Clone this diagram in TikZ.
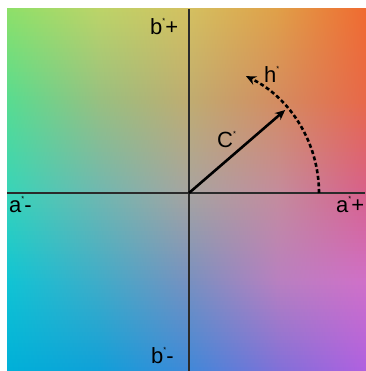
\documentclass[tikz,border=0pt]{standalone}
\usepackage{fontspec}
\setmainfont{Liberation Sans}
\usetikzlibrary{arrows.meta}
% colour grid: row (top->bottom) / column (left->right)
\definecolor{g00}{HTML}{8EE068}\definecolor{g01}{HTML}{BCD468}\definecolor{g02}{HTML}{D4C060}\definecolor{g03}{HTML}{E0A048}\definecolor{g04}{HTML}{F06A30}
\definecolor{g10}{HTML}{58DC90}\definecolor{g11}{HTML}{98C080}\definecolor{g12}{HTML}{C0AC70}\definecolor{g13}{HTML}{D48C60}\definecolor{g14}{HTML}{E86848}
\definecolor{g20}{HTML}{38D4B8}\definecolor{g21}{HTML}{70B8B0}\definecolor{g22}{HTML}{A8A4A0}\definecolor{g23}{HTML}{C48C9C}\definecolor{g24}{HTML}{D8608A}
\definecolor{g30}{HTML}{10C4D4}\definecolor{g31}{HTML}{40ACC8}\definecolor{g32}{HTML}{7890C0}\definecolor{g33}{HTML}{B880C0}\definecolor{g34}{HTML}{D070C8}
\definecolor{g40}{HTML}{00B0D8}\definecolor{g41}{HTML}{10A0D8}\definecolor{g42}{HTML}{4088D8}\definecolor{g43}{HTML}{8070D8}\definecolor{g44}{HTML}{B060E0}
\definecolor{axiscol}{HTML}{2A2A2A}
\newcommand\stx{\raisebox{11.5pt}{\fontsize{7.5}{7.5}\selectfont*}}
\tikzset{
  lab/.style={inner sep=0pt, anchor=base west, font=\fontsize{22}{26}\selectfont, text=black},
  axisline/.style={draw=axiscol, line width=1.6pt},
  vec/.style={draw=black, line width=2.6pt, -{Stealth[length=10pt,width=9pt]}},
  hue/.style={draw=black, line width=2.6pt, dash pattern=on 4pt off 2.6pt, -{Stealth[length=10pt,width=9pt]}}
}
\begin{document}
\begin{tikzpicture}[x=1pt,y=1pt]
\useasboundingbox (0,0) rectangle (365,371);
% smooth colour field
\foreach \r in {0,1,2,3}{
  \pgfmathtruncatemacro\rn{\r+1}
  \pgfmathsetmacro\yt{{362,270,178,89,0}[\r]}
  \pgfmathsetmacro\yb{{362,270,178,89,0}[\rn]}
  \foreach \k in {0,...,22}{
    \pgfmathsetmacro\ya{\yt-(\yt-\yb)*\k/23}
    \pgfmathsetmacro\yc{\yt-(\yt-\yb)*(\k+1)/23-0.8}
    \pgfmathtruncatemacro\p{round(100*(1-(\k+0.5)/23))}
    \colorlet{v0}{g\r0!\p!g\rn0}
    \colorlet{v1}{g\r1!\p!g\rn1}
    \colorlet{v2}{g\r2!\p!g\rn2}
    \colorlet{v3}{g\r3!\p!g\rn3}
    \colorlet{v4}{g\r4!\p!g\rn4}
    \shade[left color=v0,right color=v1] (7,\ya) rectangle (98.5,\yc);
    \shade[left color=v1,right color=v2] (98,\ya) rectangle (189.5,\yc);
    \shade[left color=v2,right color=v3] (189,\ya) rectangle (277.5,\yc);
    \shade[left color=v3,right color=v4] (277,\ya) rectangle (366,\yc);
  }
}
% axes
\coordinate (O) at (189,178);
\coordinate (L) at (7,178);
\coordinate (R) at (365,178);
\coordinate (T) at (189,362);
\coordinate (B) at (189,0);
\draw[axisline] (L) -- (R);
\draw[axisline] (T) -- (B);
% chroma vector and hue arc
\coordinate (Ctip) at ([shift={(40.8:127)}]O);
\coordinate (Hstart) at ([shift={(0:130)}]O);
\draw[vec] (O) -- (Ctip);
\draw[hue] (Hstart) arc[start angle=0, end angle=64, radius=130];
% labels
\node[lab] (bp) at (150,336) {b\stx+};
\node[lab] (am) at (9,158) {a\stx-};
\node[lab] (ap) at (336,158) {a\stx+};
\node[lab] (bm) at (151,7) {b\stx-};
\node[lab] (cl) at (217,223) {C\stx};
\node[lab] (hl) at (264,288) {h\stx};
\end{tikzpicture}
\end{document}
